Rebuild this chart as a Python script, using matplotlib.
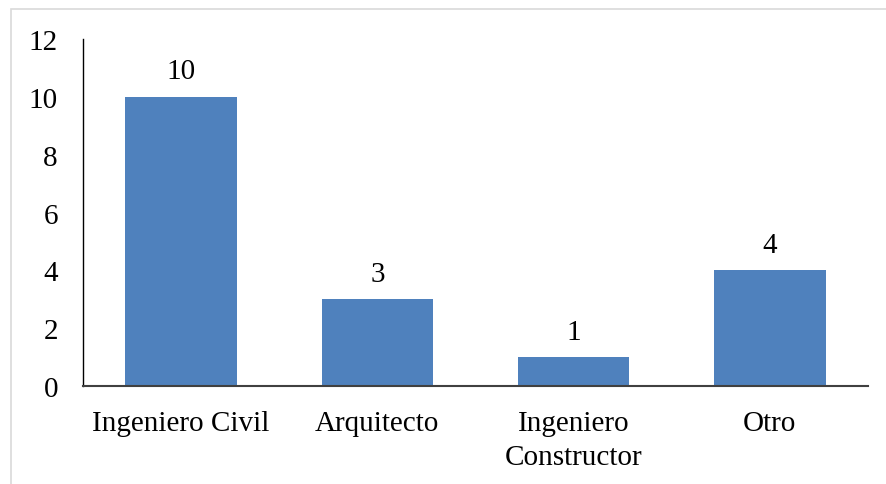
import matplotlib
matplotlib.use("Agg")
import matplotlib.pyplot as plt
from matplotlib.patches import Rectangle

categories = ["Ingeniero Civil", "Arquitecto", "Ingeniero\nConstructor", "Otro"]
values = [10, 3, 1, 4]
yticks = [0, 2, 4, 6, 8, 10, 12]

plt.rcParams["font.family"] = ["Liberation Serif", "DejaVu Serif"]

W, H = 887, 485
fig = plt.figure(figsize=(W / 100, H / 100), dpi=100)

# light frame around the chart area (runs past the right and bottom edges)
fig.patches.append(Rectangle((11 / W, -0.1), 1.2, 1.1 - 10 / H, transform=fig.transFigure,
                             fill=False, edgecolor="#d9d9d9", linewidth=1.2))

ax = fig.add_axes([83 / W, 1 - 387 / H, (868 - 83) / W, (387 - 40) / H])
x = range(len(categories))
bars = ax.bar(x, values, width=0.567, color="#4f81bd")

ax.set_xlim(-0.5, len(categories) - 0.5)
ax.set_ylim(0, 12)
ax.set_yticks(yticks)
ax.set_yticklabels([str(t) for t in yticks])
ax.set_xticks(list(x))
ax.set_xticklabels(categories, linespacing=1.4)

for spine in ["top", "right"]:
    ax.spines[spine].set_visible(False)
ax.spines["left"].set_color("#000000")
ax.spines["left"].set_linewidth(1.0)
ax.spines["bottom"].set_color("#404040")
ax.spines["bottom"].set_linewidth(1.5)

fs = 21
ax.tick_params(axis="both", length=0, labelsize=fs)
ax.tick_params(axis="y", pad=18)
ax.tick_params(axis="x", pad=17)
for lbl in ax.get_xticklabels():
    lbl.set_verticalalignment("top")

for xi, v in zip(x, values):
    ax.annotate(str(v), (xi, v), xytext=(0, 9), textcoords="offset points",
                ha="center", va="bottom", fontsize=fs)

fig.savefig("out.png", dpi=100)
